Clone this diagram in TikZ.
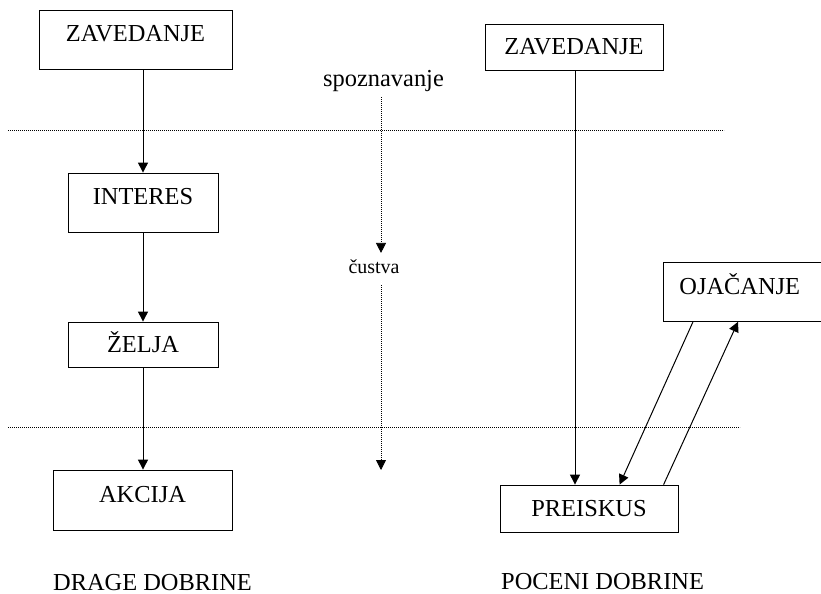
\documentclass[tikz,border=0pt]{standalone}
\usepackage{fontspec}
\setmainfont{Liberation Serif}
\usetikzlibrary{arrows.meta,calc}
\begin{document}
\begin{tikzpicture}[x=1bp,y=-1bp,
  every node/.style={font=\fontsize{24.5}{29}\selectfont, inner sep=0pt},
  boxc/.style={draw, line width=0.8bp, text height=16bp, text depth=0bp},
  boxhi/.style={draw, line width=0.8bp, text height=10bp, text depth=6bp},
  boxmid/.style={draw, line width=0.8bp, text height=11bp, text depth=6bp},
  arr/.style={line width=1bp, -{Triangle[length=10bp,width=10bp]}},
  dotline/.style={line width=0.8bp, dash pattern=on 1bp off 1bp},
  dotarr/.style={dotline, -{Triangle[length=10bp,width=10bp]}}]
\useasboundingbox (0,0) rectangle (821,594);
% left column
\node[boxhi, minimum width=193bp, minimum height=59bp] (z1) at (135.5,39.5) {ZAVEDANJE};
\node[boxhi, minimum width=150bp, minimum height=59bp] (int) at (143,202.5) {INTERES};
\node[boxc, minimum width=150bp, minimum height=45bp] (zel) at (143,344.5) {ŽELJA};
\node[boxhi, minimum width=179bp, minimum height=60bp] (akc) at (142.5,500) {AKCIJA};
\node[anchor=base west, text depth=0bp] (drage) at (53,590) {DRAGE DOBRINE};
\draw[arr] (z1.south -| int.north) -- (int.north);
\draw[arr] (int.south) -- (zel.north);
\draw[arr] (zel.south) -- (akc.north -| zel.south);
% right column
\node[boxc, minimum width=178bp, minimum height=46bp] (z2) at (574,47) {ZAVEDANJE};
\node[boxc, minimum width=178bp, minimum height=47bp] (pr) at (589,508.5) {PREISKUS};
\node[boxmid, anchor=north west, minimum height=59bp, text width=141bp, align=left, inner xsep=16bp] (oj) at (663,262) {OJAČANJE};
\node[anchor=base west, text depth=0bp] (poc) at (501,589) {POCENI DOBRINE};
\coordinate (rx) at (575,0);
\draw[arr] (z2.south -| rx) -- (pr.north -| rx);
\draw[arr] ($(oj.south west)+(30,0)$) -- ($(pr.north west)+(120,0)$);
\draw[arr] ($(pr.north west)+(164,0)$) -- ($(oj.south west)+(75,0)$);
% separators
\coordinate (l1a) at (8,130);
\coordinate (l1b) at (724,130);
\coordinate (l2a) at (8,427);
\coordinate (l2b) at (740,427);
\draw[dotline] (l1a) -- (l1b);
\draw[dotline] (l2a) -- (l2b);
% middle
\node[anchor=base] (sp) at (383.5,87) {spoznavanje};
\node[anchor=base, font=\fontsize{20}{24}\selectfont] (cu) at (374,273) {čustva};
\coordinate (vx) at (381,0);
\coordinate (vend) at (381,470);
\draw[dotarr, shorten <=5bp, shorten >=6bp] (sp.south -| vx) -- (cu.north -| vx);
\draw[dotarr, shorten <=12bp] (cu.south -| vx) -- (vend);
\end{tikzpicture}
\end{document}
